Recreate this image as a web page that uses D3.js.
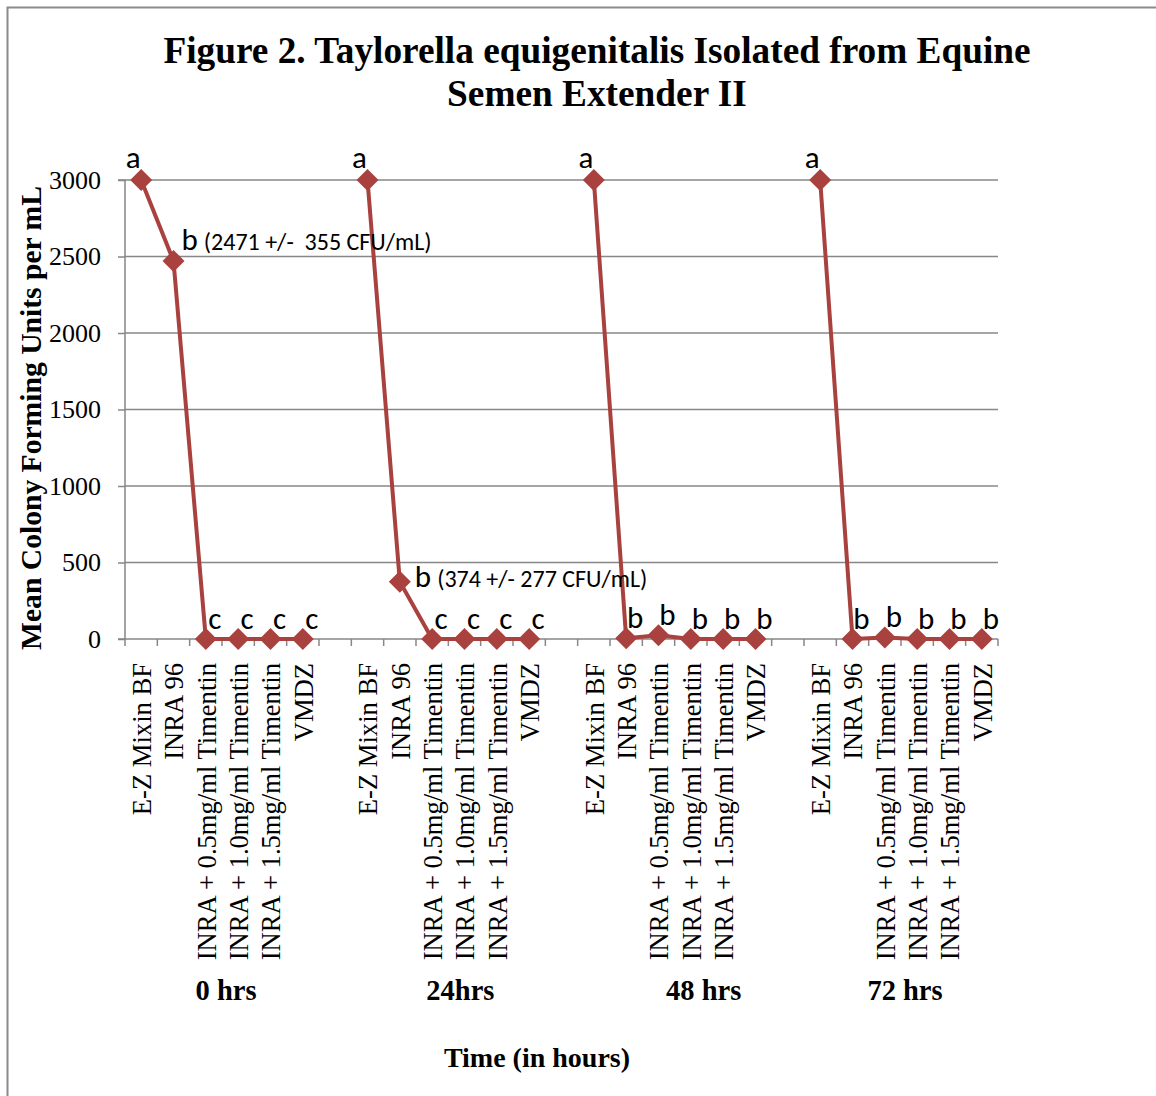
<!DOCTYPE html>
<html>
<head>
<meta charset="utf-8">
<script src="https://cdn.jsdelivr.net/npm/d3@7"></script>
<style>
  html, body { margin: 0; padding: 0; background: #fff; }
  svg { display: block; }
  text { white-space: pre; }
</style>
</head>
<body>
<svg id="chart" width="1156" height="1096"></svg>
<script>
// ---------------- data ----------------
const groups = ["0 hrs", "24hrs", "48 hrs", "72 hrs"];
const treatments = ["E-Z Mixin BF", "INRA 96", "INRA + 0.5mg/ml Timentin",
                    "INRA + 1.0mg/ml Timentin", "INRA + 1.5mg/ml Timentin", "VMDZ"];
const values0h  = [3000, 2471, 0, 0, 0, 0];
const values24h = [3000, 374, 0, 0, 0, 0];
const values48h = [3000, 5, 25, 0, 0, 0];
const values72h = [3000, 0, 10, 0, 0, 0];
const letters0h  = ["a", "b", "c", "c", "c", "c"];
const letters24h = ["a", "b", "c", "c", "c", "c"];
const letters48h = ["a", "b", "b", "b", "b", "b"];
const letters72h = ["a", "b", "b", "b", "b", "b"];
const notes0h  = ["", "(2471 +/-  355 CFU/mL)", "", "", "", ""];
const notes24h = ["", "(374 +/- 277 CFU/mL)", "", "", "", ""];
const yTicks = [0, 500, 1000, 1500, 2000, 2500, 3000];
const titleLines = ["Figure 2. Taylorella equigenitalis Isolated from Equine", "Semen Extender II"];
const yTitle = "Mean Colony Forming Units per mL";
const xTitle = "Time (in hours)";

const seriesValues = [values0h, values24h, values48h, values72h];
const seriesLetters = [letters0h, letters24h, letters48h, letters72h];
const seriesNotes = [notes0h, notes24h, ["","","","","",""], ["","","","","",""]];

// ---------------- build slots ----------------
const slots = [];
groups.forEach((g, gi) => {
  treatments.forEach((t, ti) => {
    slots.push({key: gi + "|" + ti, group: gi, ti, label: t,
                value: seriesValues[gi][ti], letter: seriesLetters[gi][ti], note: seriesNotes[gi][ti]});
  });
  if (gi < groups.length - 1) slots.push({key: "gap" + gi, gap: true, value: null});
});

// ---------------- layout ----------------
const svg = d3.select("#chart");
const plot = {left: 125, right: 998, top: 180, bottom: 639};
const red = "#A9423F";
const grid = "#878787";
const serif = "'Liberation Serif', 'Times New Roman', serif";
const sans = "Carlito, 'Open Sans', 'Liberation Sans', Arial, sans-serif";

const x = d3.scaleBand().domain(slots.map(d => d.key)).range([plot.left, plot.right]).padding(0);
const y = d3.scaleLinear().domain([0, 3000]).range([plot.bottom, plot.top]);

// outer border
svg.append("rect").attr("x", 7.5).attr("y", 7.5).attr("width", 1200).attr("height", 1200)
  .attr("fill", "none").attr("stroke", "#8a8a8a").attr("stroke-width", 2);

// title
svg.append("text").attr("x", 597).attr("y", 63).attr("text-anchor", "middle")
  .attr("font-family", serif).attr("font-weight", "bold").attr("font-size", 37.3)
  .selectAll("tspan").data(titleLines).join("tspan")
  .attr("x", 597).attr("dy", (d, i) => i === 0 ? 0 : 43).text(d => d);

// gridlines
svg.append("g").selectAll("line").data(yTicks.filter(v => v > 0)).join("line")
  .attr("x1", plot.left).attr("x2", plot.right)
  .attr("y1", d => y(d)).attr("y2", d => y(d))
  .attr("stroke", grid).attr("stroke-width", 1.5);

// y axis
const yAxis = d3.axisLeft(y).tickValues(yTicks).tickSize(7).tickPadding(17).tickFormat(d3.format("d"));
const yg = svg.append("g").attr("transform", `translate(${plot.left},0)`).call(yAxis);
yg.select(".domain").attr("stroke", grid).attr("stroke-width", 1.5).attr("d", `M-7,${plot.top}H0V${plot.bottom}H-7`);
yg.selectAll(".tick line").attr("stroke", grid).attr("stroke-width", 1.5);
yg.selectAll(".tick text").attr("font-family", serif).attr("font-size", 26).attr("fill", "#000");

// x axis
const boundaries = slots.map(d => x(d.key)).concat([plot.right]);
svg.append("line").attr("x1", plot.left).attr("x2", plot.right)
  .attr("y1", plot.bottom).attr("y2", plot.bottom).attr("stroke", grid).attr("stroke-width", 1.5);
svg.append("g").selectAll("line").data(boundaries).join("line")
  .attr("x1", d => d).attr("x2", d => d).attr("y1", plot.bottom).attr("y2", plot.bottom + 7)
  .attr("stroke", grid).attr("stroke-width", 1.5);

// x tick labels (rotated)
svg.append("g").selectAll("text").data(slots.filter(d => !d.gap)).join("text")
  .attr("transform", d => `translate(${x(d.key) + x.bandwidth() / 2 + 1},663) rotate(-90)`)
  .attr("text-anchor", "end").attr("dy", "0.33em")
  .attr("font-family", serif).attr("font-size", 26.6).attr("fill", "#000")
  .text(d => d.label);

// group labels
const groupOffsets = [4, 12, 29, 4];
svg.append("g").selectAll("text").data(groups).join("text")
  .attr("x", (g, gi) => {
    const first = x(gi + "|0"), last = x(gi + "|5") + x.bandwidth();
    return (first + last) / 2 + groupOffsets[gi];
  })
  .attr("y", 1000).attr("text-anchor", "middle")
  .attr("font-family", serif).attr("font-weight", "bold").attr("font-size", 28.5).attr("fill", "#000")
  .text(d => d);

// axis titles
svg.append("text").attr("x", 537).attr("y", 1067).attr("text-anchor", "middle")
  .attr("font-family", serif).attr("font-weight", "bold").attr("font-size", 28).text(xTitle);
svg.append("text").attr("transform", `translate(41,418) rotate(-90)`)
  .attr("text-anchor", "middle")
  .attr("font-family", serif).attr("font-weight", "bold").attr("font-size", 29.6).text(yTitle);

// series line (gaps break the line)
const line = d3.line().defined(d => d.value !== null)
  .x(d => x(d.key) + x.bandwidth() / 2).y(d => y(d.value));
svg.append("path").datum(slots).attr("d", line)
  .attr("fill", "none").attr("stroke", red).attr("stroke-width", 4).attr("stroke-linejoin", "round");

// diamond markers
const pts = slots.filter(d => !d.gap);
svg.append("g").selectAll("path").data(pts).join("path")
  .attr("d", "M0,-11L11,0L0,11L-11,0Z")
  .attr("transform", d => `translate(${x(d.key) + x.bandwidth() / 2},${y(d.value)})`)
  .attr("fill", red);

// annotation letters
const ann = svg.append("g").attr("font-family", sans).attr("fill", "#000");
pts.forEach(d => {
  const cx = x(d.key) + x.bandwidth() / 2, cy = y(d.value);
  let lx, ly, anchor = "middle";
  if (d.letter === "a") { lx = cx - 8; ly = cy - 12; }
  else if (d.note && d.group === 1) { lx = cx + 15; ly = cy + 5; anchor = "start"; }
  else if (d.note) { lx = cx + 8; ly = cy - 11; anchor = "start"; }
  else { lx = cx + 9; ly = cy - 10; }
  const t = ann.append("text").attr("x", lx).attr("y", ly).attr("text-anchor", anchor)
    .attr("font-size", 31).text(d.letter);
  if (d.note) {
    t.append("tspan").attr("font-size", 24).attr("dx", 6).text(d.note);
  }
});
</script>
</body>
</html>
